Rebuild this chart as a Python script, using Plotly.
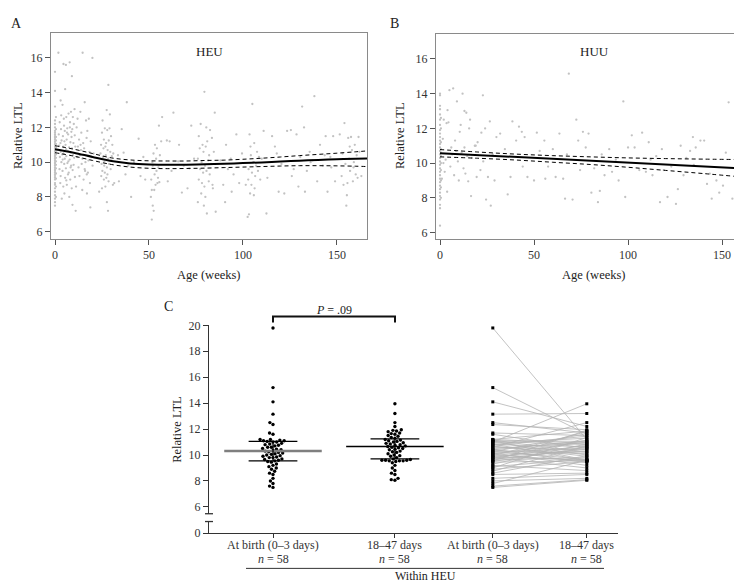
import math
import plotly.graph_objects as go

W, H = 742, 583

# ---------------- Panel A (HEU) data: (age in weeks, relative LTL) ----------------
heu_birth_wk0 = [7.5, 7.7, 7.9, 8.1, 8.3, 8.5, 8.7, 8.8, 9.0, 9.1, 9.2, 9.3, 9.4, 9.5, 9.6, 9.7,
                 9.8, 9.9, 10.0, 10.1, 10.2, 10.3, 10.4, 10.5, 10.6, 10.7, 10.8, 10.9, 11.0, 11.1,
                 11.2, 11.3, 11.4, 11.5, 11.6, 11.7, 11.8, 12.0, 12.2, 12.4, 13.2, 14.1, 15.2]
heu_birth_wk05 = [8.0, 8.6, 9.05, 9.35, 9.65, 9.85, 10.05, 10.25, 10.45, 10.65, 10.85, 11.05,
                  11.25, 11.45, 11.9, 12.6]
heu_wk6 = [(1.8, 16.3), (4.5, 15.65), (5.8, 15.6), (7.8, 15.75), (9.0, 14.95), (5.4, 14.2), (3.0, 13.55),
           (10.4, 13.05), (8.5, 12.9), (4.0, 13.3), (6.0, 12.6), (7.2, 12.8), (9.5, 12.6), (2.5, 12.3),
           (4.8, 12.1), (8.0, 12.3), (10.0, 12.2), (3.2, 11.9), (5.2, 11.8), (6.5, 11.95), (9.2, 11.9),
           (2.0, 11.6), (4.2, 11.5), (7.0, 11.6), (8.8, 11.45), (10.5, 11.55), (3.5, 11.25), (5.0, 11.2),
           (6.2, 11.3), (8.2, 11.15), (9.8, 11.1), (2.2, 10.95), (4.4, 10.9), (5.6, 11.0), (7.5, 10.85),
           (9.0, 10.8), (10.8, 10.9), (3.0, 10.6), (4.6, 10.5), (6.8, 10.65), (8.4, 10.55), (9.6, 10.4),
           (2.6, 10.3), (5.2, 10.2), (6.0, 10.35), (7.8, 10.15), (10.2, 10.25), (3.4, 10.0), (4.9, 9.9),
           (6.6, 9.95), (8.6, 9.8), (9.9, 9.85), (2.4, 9.6), (4.0, 9.5), (5.8, 9.65), (7.3, 9.4),
           (9.4, 9.55), (3.0, 9.2), (5.4, 9.1), (6.9, 9.3), (8.1, 9.0), (10.6, 9.15), (2.8, 8.8),
           (4.4, 8.6), (6.3, 8.7), (8.9, 8.5), (5.0, 8.2), (7.6, 8.0), (3.6, 7.9), (9.3, 7.55),
           (6.0, 8.95), (4.7, 12.5), (7.9, 12.0), (5.9, 10.75), (3.8, 10.45), (8.3, 9.7),
           (1.5, 10.7), (2.9, 11.1), (4.1, 10.15), (6.4, 11.7), (7.1, 10.05), (8.7, 11.75), (3.3, 12.7)]
heu_wk14 = [(14.7, 16.3), (19.9, 16.0), (15.8, 13.45), (12.0, 12.5), (13.5, 12.9), (16.5, 12.4), (18.0, 12.5),
            (11.5, 12.0), (14.0, 11.7), (17.2, 11.8), (12.8, 11.3), (15.0, 11.1), (16.8, 11.4), (19.0, 11.2),
            (12.2, 10.9), (13.8, 10.7), (15.5, 10.8), (18.3, 10.6), (20.5, 10.5), (11.8, 10.3), (13.2, 10.4),
            (14.6, 10.2), (16.2, 10.0), (17.8, 10.1), (19.5, 10.3), (12.5, 9.7), (14.2, 9.9), (15.8, 9.6),
            (17.5, 9.4), (20.0, 9.8), (13.0, 9.2), (15.2, 9.0), (16.9, 9.3), (18.6, 8.8), (11.2, 8.6),
            (14.5, 8.4), (17.0, 8.2), (18.8, 7.4), (11.0, 7.2), (16.0, 9.5), (13.6, 11.0)]
heu_wk26 = [(28.4, 14.45), (27.5, 13.0), (29.2, 12.75), (25.3, 12.4), (26.5, 11.95), (27.8, 11.85), (29.8, 11.5),
            (25.0, 11.7), (26.0, 11.3), (27.2, 11.1), (28.6, 11.25), (30.5, 11.0), (24.5, 11.0), (25.8, 10.8),
            (26.8, 10.9), (28.0, 10.7), (29.4, 10.6), (31.0, 10.5), (24.2, 10.5), (25.5, 10.3), (27.0, 10.4),
            (28.3, 10.2), (30.0, 10.1), (24.8, 9.9), (26.2, 9.8), (27.6, 9.7), (28.8, 9.9), (25.2, 9.5),
            (26.5, 9.4), (27.9, 9.3), (29.6, 9.6), (24.6, 9.2), (26.0, 9.0), (27.3, 9.1), (28.5, 8.9),
            (31.5, 8.8), (30.8, 8.7), (25.0, 8.5), (26.8, 8.6), (27.6, 7.7), (28.2, 7.2), (23.5, 8.3),
            (29.0, 11.95), (26.3, 10.05), (30.2, 10.35)]
heu_sparse1 = [(33.5, 10.4), (35.5, 11.9), (36.5, 10.55), (38.2, 13.45), (37.5, 9.3), (40.5, 8.0),
               (44.5, 11.35), (45.5, 9.2), (48.0, 9.0), (42.0, 10.0), (34.0, 8.9), (39.0, 9.8), (47.0, 10.3)]
heu_wk54 = [(51.5, 6.7), (52.5, 7.2), (52.0, 7.5), (51.0, 8.0), (52.8, 8.4), (53.5, 8.7), (54.5, 8.8),
            (55.5, 8.85), (51.2, 9.0), (53.0, 9.3), (54.0, 9.5), (55.0, 9.7), (51.8, 10.0), (53.8, 10.2),
            (55.8, 10.4), (52.4, 10.5), (54.2, 10.8), (56.5, 11.2), (53.2, 11.0), (55.3, 12.1), (57.0, 12.6),
            (52.0, 9.8), (54.8, 9.1), (51.5, 8.4)]
heu_sparse2 = [(59.5, 11.25), (61.0, 11.2), (63.0, 12.85), (62.0, 9.5), (65.5, 10.05), (67.5, 8.25),
               (68.5, 9.8), (70.5, 8.5), (72.5, 12.1), (71.5, 9.65), (74.0, 10.2), (66.0, 11.0), (60.0, 8.9)]
heu_wk80 = [(79.5, 14.05), (77.5, 12.2), (80.5, 12.0), (82.5, 11.85), (76.5, 11.5), (78.5, 11.0), (81.0, 11.2),
            (83.5, 11.4), (77.0, 10.8), (79.0, 10.6), (80.2, 10.9), (82.0, 10.4), (84.5, 10.6), (76.0, 10.2),
            (78.0, 10.0), (79.8, 9.8), (81.5, 10.1), (83.0, 9.9), (77.2, 9.6), (78.8, 9.4), (80.6, 9.5),
            (82.3, 9.3), (76.5, 9.0), (78.2, 8.8), (79.5, 8.6), (81.8, 8.9), (84.0, 8.5), (77.8, 8.2),
            (80.0, 8.0), (76.0, 7.7), (79.2, 7.5), (80.8, 7.05), (85.5, 7.15), (85.0, 12.85), (83.8, 8.7)]
heu_sparse3 = [(88.0, 10.1), (89.5, 8.7), (90.5, 7.7), (92.0, 9.6), (93.5, 10.2), (95.0, 9.3), (96.5, 11.6),
               (98.0, 8.8), (99.5, 10.5), (91.0, 11.0), (94.0, 8.3)]
heu_wk104 = [(102.5, 6.85), (103.2, 7.0), (105.0, 13.35), (103.5, 11.6), (106.0, 11.1), (107.5, 10.6),
             (104.2, 10.4), (105.5, 10.0), (107.0, 9.8), (103.0, 9.6), (104.8, 9.4), (106.5, 9.2), (108.0, 9.5),
             (102.8, 9.0), (104.5, 8.7), (106.2, 8.5), (103.8, 8.2), (105.8, 8.1), (108.5, 10.3), (110.0, 10.2),
             (109.2, 9.0), (111.0, 11.8), (104.0, 10.9), (101.5, 8.7)]
heu_sparse4 = [(112.5, 7.05), (113.0, 9.1), (115.5, 11.5), (117.0, 10.9), (119.0, 8.3), (120.5, 9.9),
               (122.0, 8.2), (123.5, 11.8), (125.5, 11.85), (127.0, 9.6), (128.5, 11.6), (129.5, 8.6),
               (130.5, 10.3), (131.5, 13.2), (132.5, 12.0), (133.0, 8.3), (134.0, 9.5), (135.5, 10.6),
               (137.0, 10.1), (138.0, 13.8), (139.5, 8.9), (141.0, 11.0), (142.5, 9.8), (144.0, 11.5),
               (145.0, 8.3), (146.5, 10.3), (148.0, 11.5), (149.0, 8.9), (118.0, 10.5), (126.0, 9.2),
               (136.0, 10.0), (143.5, 10.4), (147.0, 9.7)]
heu_wk156 = [(151.5, 11.6), (152.5, 9.2), (153.0, 10.5), (154.0, 12.25), (154.5, 9.9), (155.0, 7.5),
             (155.3, 8.1), (155.6, 8.8), (156.0, 11.4), (156.5, 10.2), (157.0, 9.5), (157.5, 11.45),
             (158.0, 10.7), (158.5, 8.9), (159.0, 10.0), (159.5, 11.0), (160.0, 9.3), (160.5, 10.4),
             (161.0, 9.1), (161.5, 11.45), (162.0, 10.6), (163.0, 9.2), (153.5, 8.7), (156.8, 10.9), (158.8, 9.7)]

heu_fit_age = [0, 10, 20, 30, 40, 50, 60, 70, 80, 90, 100, 110, 120, 130, 140, 150, 160, 166]
heu_fit = [10.75, 10.55, 10.3, 10.07, 9.93, 9.87, 9.86, 9.86, 9.88, 9.91, 9.95, 9.99, 10.04, 10.09, 10.13, 10.17, 10.2, 10.22]
heu_fit_hi = [10.95, 10.75, 10.5, 10.25, 10.13, 10.08, 10.07, 10.07, 10.1, 10.12, 10.17, 10.23, 10.3, 10.38, 10.45, 10.52, 10.6, 10.65]
heu_fit_lo = [10.55, 10.35, 10.1, 9.87, 9.72, 9.65, 9.63, 9.64, 9.66, 9.69, 9.72, 9.75, 9.78, 9.8, 9.8, 9.79, 9.77, 9.75]

# ---------------- Panel B (HUU) data ----------------
huu_birth_wk0 = [6.4, 7.4, 7.6, 7.9, 8.1, 8.3, 8.5, 8.7, 8.9, 9.1, 9.3, 9.5, 9.7, 9.9, 10.1, 10.3, 10.5,
                 10.7, 10.9, 11.1, 11.3, 11.5, 11.7, 11.9, 12.2, 12.5, 12.8, 13.1, 13.3, 13.9, 14.0]
huu_birth_wk05 = [8.0, 8.6, 9.0, 9.6, 10.0, 10.4, 10.6, 10.8, 11.2, 12.0, 12.6]
huu_early = [(7.0, 14.3), (5.0, 14.2), (12.0, 14.0), (9.0, 13.55), (13.0, 13.0), (14.0, 12.9), (22.8, 13.9),
             (4.0, 13.05), (2.0, 12.5), (3.5, 12.3), (16.0, 12.5), (26.5, 12.4), (24.0, 12.0), (10.5, 11.8),
             (1.5, 11.4), (8.0, 11.3), (20.0, 11.2), (18.5, 11.0), (6.0, 10.9), (11.5, 10.6), (14.5, 10.4),
             (3.0, 10.2), (9.5, 10.1), (17.0, 10.3), (23.0, 10.1), (28.0, 10.5), (5.5, 9.8), (12.5, 9.7),
             (2.5, 9.5), (7.5, 9.3), (13.5, 9.4), (19.5, 9.2), (21.5, 9.6), (1.0, 9.1), (10.0, 9.0),
             (15.0, 8.95), (25.5, 9.2), (29.0, 9.0), (16.5, 8.1), (24.5, 7.9), (27.0, 7.55), (3.8, 8.35),
             (6.5, 10.5), (8.5, 10.7), (11.0, 12.2), (15.5, 12.0), (19.0, 11.0), (22.0, 11.75), (30.0, 11.5),
             (4.5, 12.35), (1.8, 10.0), (13.0, 10.9)]
huu_later = [(32.0, 11.7), (34.5, 10.8), (36.0, 8.2), (37.5, 9.2), (38.5, 12.4), (40.5, 11.3), (42.0, 12.1),
             (43.5, 11.8), (45.0, 11.5), (44.0, 9.8), (46.5, 9.2), (50.0, 9.0), (51.5, 11.75), (53.0, 10.7),
             (55.5, 11.3), (56.0, 9.1), (57.5, 9.8), (60.0, 10.8), (61.5, 9.2), (63.5, 11.7), (65.5, 9.1),
             (66.5, 7.95), (67.5, 10.5), (68.5, 15.15), (70.5, 7.9), (72.5, 12.5), (73.5, 11.3), (74.5, 9.6),
             (76.0, 11.8), (77.5, 10.9), (79.0, 11.7), (80.5, 8.3), (82.0, 9.7), (84.0, 7.75), (85.0, 8.4),
             (86.0, 10.5), (87.5, 9.3), (90.0, 10.8), (91.5, 9.5), (93.5, 10.2), (95.0, 9.0), (97.5, 13.55),
             (98.5, 8.05), (100.0, 10.9), (102.0, 11.6), (103.5, 10.9), (106.0, 9.6), (107.5, 11.75),
             (109.5, 9.5), (111.0, 11.2), (113.0, 9.3), (115.0, 10.4), (117.0, 7.75), (119.0, 9.6),
             (121.0, 8.05), (123.0, 9.8), (125.5, 7.65), (126.5, 8.5), (128.0, 11.0), (129.5, 9.3),
             (131.0, 10.3), (133.0, 10.7), (134.5, 11.5), (136.0, 10.9), (138.5, 11.3), (140.5, 11.3),
             (142.0, 8.8), (143.5, 9.4), (144.5, 7.95), (147.0, 9.0), (148.5, 8.3), (150.5, 8.7),
             (152.0, 10.6), (153.5, 13.5), (155.5, 7.95), (157.0, 10.1), (159.0, 9.5), (135.0, 9.9),
             (118.0, 10.8), (112.0, 10.2)]

huu_fit_age = [0, 20, 40, 60, 80, 100, 120, 140, 164]
huu_fit = [10.57, 10.46, 10.35, 10.24, 10.14, 10.03, 9.92, 9.81, 9.68]
huu_fit_hi = [10.78, 10.64, 10.52, 10.43, 10.36, 10.3, 10.26, 10.23, 10.2]
huu_fit_lo = [10.36, 10.28, 10.18, 10.05, 9.92, 9.76, 9.58, 9.4, 9.17]

# ---------------- Panel C data (within HEU, n = 58) ----------------
c_labels = ["At birth (0–3 days)", "18–47 days", "At birth (0–3 days)", "18–47 days"]
c_n_labels = ["<i>n</i> = 58", "<i>n</i> = 58", "<i>n</i> = 58", "<i>n</i> = 58"]
ltl_birth = [19.8, 15.2, 14.1, 13.15, 12.5, 12.35, 11.7, 11.6, 11.2, 11.2, 11.15, 11.1, 11.1, 11.05, 11.0,
             11.0, 10.9, 10.85, 10.8, 10.75, 10.7, 10.6, 10.6, 10.5, 10.45, 10.4, 10.35, 10.3, 10.25, 10.2,
             10.15, 10.1, 10.05, 10.0, 9.95, 9.9, 9.85, 9.8, 9.8, 9.7, 9.65, 9.6, 9.55, 9.5, 9.45, 9.3,
             9.2, 9.1, 9.0, 8.9, 8.75, 8.6, 8.5, 8.2, 8.0, 7.8, 7.6, 7.5]
# follow-up values, paired element-wise with ltl_birth
ltl_followup = [11.2, 11.6, 12.2, 13.2, 11.7, 11.95, 11.5, 10.5, 10.9, 11.85, 10.2, 11.05, 9.6, 10.8, 13.95,
                10.0, 11.3, 9.55, 10.65, 11.45, 9.9, 10.4, 12.5, 10.95, 9.4, 11.1, 10.1, 9.65, 11.65, 10.55,
                9.2, 11.0, 10.3, 9.55, 11.8, 10.25, 9.6, 10.75, 9.0, 11.15, 10.45, 9.8, 11.9, 10.6, 9.55,
                10.85, 8.8, 9.7, 11.35, 9.5, 10.7, 9.95, 8.6, 8.5, 8.2, 9.6, 8.1, 8.05]
birth_summary = [9.55, 10.3, 11.05]      # lower bar, centre, upper bar
followup_summary = [9.7, 10.65, 11.25]

# ---------------- layout geometry (pixels) ----------------
def X(p):
    return p / W

def Y(p):
    return 1 - p / H

c_pos = [1.0, 2.0, 2.803, 3.574]
c_xrange = [0.475, 3.83]
c_yrange = [5.47, 20.0]
c_dom_x = [201, 610]
c_dom_y = [511, 318]

FONT = "Liberation Serif, DejaVu Serif, Times New Roman, serif"
INK = "#222222"

def unpack(clusters):
    ax, ay = [], []
    for cl in clusters:
        for a, v in cl:
            ax.append(a)
            ay.append(v)
    return ax, ay

heu_age, heu_ltl = unpack([heu_wk6, heu_wk14, heu_wk26, heu_sparse1, heu_wk54, heu_sparse2,
                           heu_wk80, heu_sparse3, heu_wk104, heu_sparse4, heu_wk156])
heu_age = [0.0] * len(heu_birth_wk0) + [0.5] * len(heu_birth_wk05) + heu_age
heu_ltl = heu_birth_wk0 + heu_birth_wk05 + heu_ltl
huu_age, huu_ltl = unpack([huu_early, huu_later])
huu_age = [0.0] * len(huu_birth_wk0) + [0.5] * len(huu_birth_wk05) + huu_age
huu_ltl = huu_birth_wk0 + huu_birth_wk05 + huu_ltl

# beeswarm layout (offsets computed from values)
px_x = (c_dom_x[1] - c_dom_x[0]) / (c_xrange[1] - c_xrange[0])
px_y = (c_dom_y[0] - c_dom_y[1]) / (c_yrange[1] - c_yrange[0])

def swarm(vals, d=3.7):
    order = sorted(range(len(vals)), key=lambda i: vals[i])
    placed = []
    offs = [0.0] * len(vals)
    for i in order:
        y = vals[i] * px_y
        cands = [0.0]
        for (xj, yj) in placed:
            dy = abs(y - yj)
            if dy < d:
                dx = math.sqrt(d * d - dy * dy)
                cands += [xj + dx, xj - dx]
        cands.sort(key=lambda c: (abs(c), c))
        for c in cands:
            if all((c - xj) ** 2 + (y - yj) ** 2 >= d * d - 1e-6 for (xj, yj) in placed):
                offs[i] = c / px_x
                placed.append((c, y))
                break
    return offs

fig = go.Figure()

# Panel A
fig.add_trace(go.Scatter(x=heu_age, y=heu_ltl, mode="markers", xaxis="x", yaxis="y",
                         marker=dict(size=2.3, color="#c2c2c2"), showlegend=False))
fig.add_trace(go.Scatter(x=heu_fit_age, y=heu_fit, mode="lines", xaxis="x", yaxis="y",
                         line=dict(color="black", width=2, shape="spline"), showlegend=False))
for s in (heu_fit_hi, heu_fit_lo):
    fig.add_trace(go.Scatter(x=heu_fit_age, y=s, mode="lines", xaxis="x", yaxis="y",
                             line=dict(color="black", width=1, dash="4px,3px", shape="spline"), showlegend=False))
# Panel B
fig.add_trace(go.Scatter(x=huu_age, y=huu_ltl, mode="markers", xaxis="x2", yaxis="y2",
                         marker=dict(size=2.3, color="#c2c2c2"), showlegend=False))
fig.add_trace(go.Scatter(x=huu_fit_age, y=huu_fit, mode="lines", xaxis="x2", yaxis="y2",
                         line=dict(color="black", width=2), showlegend=False))
for s in (huu_fit_hi, huu_fit_lo):
    fig.add_trace(go.Scatter(x=huu_fit_age, y=s, mode="lines", xaxis="x2", yaxis="y2",
                             line=dict(color="black", width=1, dash="4px,3px", shape="spline"), showlegend=False))

# Panel C: beeswarms
for gi, vals in ((0, ltl_birth), (1, ltl_followup)):
    offs = swarm(vals)
    fig.add_trace(go.Scatter(x=[c_pos[gi] + o for o in offs], y=vals, mode="markers",
                             xaxis="x3", yaxis="y3", cliponaxis=False,
                             marker=dict(size=3.4, color="black"), showlegend=False))

# summary bars
for gi, summ, mcol, mw in ((0, birth_summary, "#7f7f7f", 2.5), (1, followup_summary, "black", 1.4)):
    c = c_pos[gi]
    fig.add_trace(go.Scatter(x=[c - 0.4, c + 0.4], y=[summ[1], summ[1]], mode="lines",
                             xaxis="x3", yaxis="y3", line=dict(color=mcol, width=mw), showlegend=False))
    fig.add_trace(go.Scatter(x=[c - 0.2, c + 0.2, None, c - 0.2, c + 0.2, None, c, c],
                             y=[summ[0], summ[0], None, summ[2], summ[2], None, summ[0], summ[2]],
                             mode="lines", xaxis="x3", yaxis="y3",
                             line=dict(color="black", width=1.3), showlegend=False))

# paired lines
lx, ly = [], []
for b, f in zip(ltl_birth, ltl_followup):
    lx += [c_pos[2], c_pos[3], None]
    ly += [b, f, None]
fig.add_trace(go.Scatter(x=lx, y=ly, mode="lines", xaxis="x3", yaxis="y3",
                         line=dict(color="#b4b4b4", width=0.8), showlegend=False))
fig.add_trace(go.Scatter(x=[c_pos[2]] * len(ltl_birth) + [c_pos[3]] * len(ltl_followup),
                         y=ltl_birth + ltl_followup, mode="markers", xaxis="x3", yaxis="y3",
                         cliponaxis=False, marker=dict(size=3, symbol="square", color="black"),
                         showlegend=False))
# keeps the lower (broken) axis segment alive
fig.add_trace(go.Scatter(x=[c_pos[0]], y=[0.5], mode="markers", xaxis="x3", yaxis="y4",
                         marker=dict(size=1, color="rgba(0,0,0,0)"), hoverinfo="skip", showlegend=False))

box_axis = dict(showline=True, mirror=True, linecolor="#8a8a8a", linewidth=1, ticks="outside",
                ticklen=5, tickcolor="#555555", tickwidth=1, showgrid=False, zeroline=False,
                tickfont=dict(family=FONT, size=12, color="#333333"))

fig.update_layout(
    width=W, height=H, autosize=False,
    margin=dict(l=0, r=0, t=0, b=0),
    paper_bgcolor="white", plot_bgcolor="white",
    font=dict(family=FONT, color=INK),
    xaxis=dict(domain=[X(43), X(359)], range=[-2.13, 166], tickvals=[0, 50, 100, 150], anchor="y", **box_axis),
    yaxis=dict(domain=[Y(229), Y(18)], range=[5.61, 17.46], tickvals=[6, 8, 10, 12, 14, 16], anchor="x", **box_axis),
    xaxis2=dict(domain=[X(428), X(740)], range=[-2.13, 163.8], tickvals=[0, 50, 100, 150], anchor="y2", **box_axis),
    yaxis2=dict(domain=[Y(229), Y(19)], range=[5.66, 17.46], tickvals=[6, 8, 10, 12, 14, 16], anchor="x2", **box_axis),
    xaxis3=dict(domain=[X(c_dom_x[0]), X(c_dom_x[1])], range=c_xrange, anchor="y4",
                tickvals=c_pos, showticklabels=False, showline=True, linecolor="#333333", linewidth=1.3,
                ticks="outside", ticklen=4, tickcolor="#333333", showgrid=False, zeroline=False),
    yaxis3=dict(domain=[Y(c_dom_y[0]), Y(c_dom_y[1])], range=c_yrange, anchor="x3",
                tickvals=[6, 8, 10, 12, 14, 16, 18, 20], showline=True, linecolor="#333333", linewidth=1.3,
                ticks="outside", ticklen=5, tickcolor="#333333", showgrid=False, zeroline=False,
                tickfont=dict(family=FONT, size=12, color="#333333")),
    yaxis4=dict(domain=[Y(531), Y(519)], range=[0, 0.9], anchor="x3",
                tickvals=[0], ticktext=["0"], showline=True, linecolor="#333333", linewidth=1.3,
                ticks="outside", ticklen=5, tickcolor="#333333", showgrid=False, zeroline=False,
                tickfont=dict(family=FONT, size=12, color="#333333")),
)

def ann(text, x, y, size=12, angle=0):
    fig.add_annotation(text=text, x=X(x), y=Y(y), xref="paper", yref="paper", showarrow=False,
                       xanchor="center", yanchor="middle", textangle=angle,
                       font=dict(family=FONT, size=size, color=INK))

ann("A", 8, 9, 14)
ann("B", 386, 9, 14)
ann("C", 160, 299, 14)
ann("HEU", 201, 37, 13)
ann("HUU", 586, 37, 13)
ann("Relative LTL", 10, 124, 12.5, -90)
ann("Relative LTL", 392, 124, 12.5, -90)
ann("Age (weeks)", 201, 266, 12.5)
ann("Age (weeks)", 586, 266, 12.5)
ann("Relative LTL", 169, 425, 12.5, -90)
ann("<i>P</i> = .09", 326, 302, 12)
ann("Within HEU", 417, 575, 12)

# category labels under panel C (placed at the x3 tick positions)
for pos, lab, nlab in zip(c_pos, c_labels, c_n_labels):
    for txt, yy in ((lab, 543), (nlab, 557)):
        fig.add_annotation(text=txt, x=pos, xref="x3", y=Y(yy), yref="paper", showarrow=False,
                           xanchor="center", yanchor="middle",
                           font=dict(family=FONT, size=12, color="#333333"))

def seg(x0, y0, x1, y1, w=1.2, col="#222222"):
    fig.add_shape(type="line", xref="paper", yref="paper", x0=X(x0), y0=Y(y0), x1=X(x1), y1=Y(y1),
                  line=dict(color=col, width=w))

# significance bracket
fig.add_shape(type="path", xref="paper", yref="paper",
              path=f"M {X(265)},{Y(315)} L {X(265)},{Y(309)} L {X(387)},{Y(309)} L {X(387)},{Y(315)}",
              line=dict(color="#111111", width=2))
# axis-break caps
seg(197, 511, 205, 511, 1.3, "#333333")
seg(197, 519, 205, 519, 1.3, "#333333")
# group underline
seg(238, 567, 596, 567, 1, "#333333")

fig.write_html("out.html")
